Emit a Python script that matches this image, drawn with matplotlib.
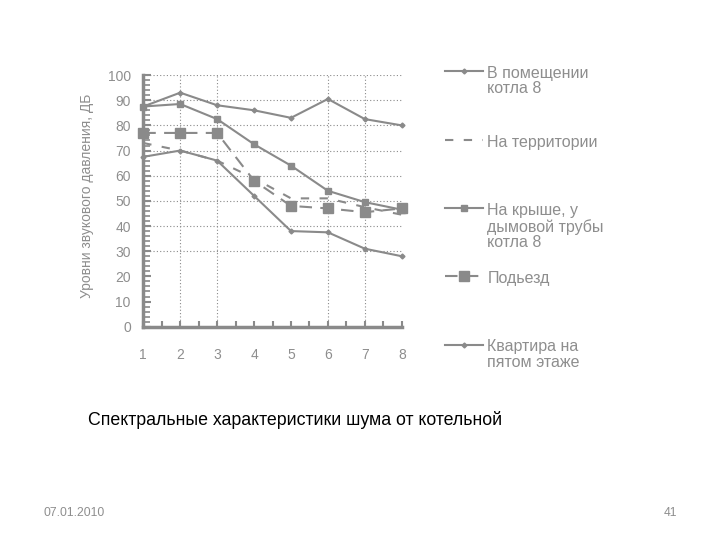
import matplotlib
matplotlib.use('Agg')
import matplotlib.pyplot as plt
from matplotlib.lines import Line2D
from matplotlib.ticker import MultipleLocator

plt.rcParams['font.family'] = ['Liberation Sans', 'DejaVu Sans']

# octave bands (1..8) and levels, dB
bands = [1, 2, 3, 4, 5, 6, 7, 8]
boiler_room = [87.5, 93, 88, 86, 83, 90.5, 82.5, 80]
territory = [73, 70, 66, 59, 51, 51, 47.5, 44.5]
roof = [87.5, 88.5, 82.5, 72.5, 64, 54, 49.5, 46.5]
entrance = [77, 77, 77, 58, 48, 47, 45.5, 47]
flat_5th = [67.5, 70, 66, 52, 38, 37.5, 31, 28]

names = ['В помещении\nкотла 8', 'На территории',
         'На крыше, у\nдымовой трубы\nкотла 8', 'Подьезд',
         'Квартира на\nпятом этаже']

gray = '#8a8a8a'
txt = '#8e8e8e'

fig = plt.figure(figsize=(7.2, 5.4), dpi=100)
ax = fig.add_axes([0.199, 0.395, 0.359, 0.466])

styles = [
    dict(ls='-', marker='D', ms=2.5),
    dict(ls=(0, (4, 5)), marker=None, ms=0),
    dict(ls='-', marker='s', ms=4),
    dict(ls=(0, (6, 4)), marker='s', ms=7.5),
    dict(ls='-', marker='D', ms=2.5),
]
series = [boiler_room, territory, roof, entrance, flat_5th]
for vals, st in zip(series, styles):
    ax.plot(bands, vals, color=gray, lw=1.5, linestyle=st['ls'],
            marker=st['marker'], ms=st['ms'], mfc=gray, mec=gray,
            clip_on=False, zorder=3)

ax.set_xlim(1, 8)
ax.set_ylim(0, 100)
ax.set_xticks(bands)
ax.set_yticks(range(0, 101, 10))
ax.yaxis.set_minor_locator(MultipleLocator(2))
ax.xaxis.set_minor_locator(MultipleLocator(0.5))

for s in ['top', 'right']:
    ax.spines[s].set_visible(False)
for s in ['left', 'bottom']:
    ax.spines[s].set_color(gray)
    ax.spines[s].set_linewidth(2.5)

ax.tick_params(axis='both', which='both', direction='in', color=gray,
               labelcolor=txt, labelsize=10)
ax.tick_params(axis='y', which='major', length=6, width=1.5, pad=9)
ax.tick_params(axis='y', which='minor', length=5, width=1.2)
ax.tick_params(axis='x', which='major', length=4, width=1.5, pad=15)
ax.tick_params(axis='x', which='minor', length=4, width=1.5)

# dotted grid (only the rows/columns visible in the original)
for y in [30, 40, 50, 60, 70, 80, 90, 100]:
    ax.axhline(y, color=gray, lw=0.8, ls=(0, (1, 2)), zorder=1)
for x in [2, 3, 6, 7]:
    ax.axvline(x, color=gray, lw=0.8, ls=(0, (1, 2)), zorder=1)

ax.set_ylabel('Уровни звукового давления, ДБ', color=txt, fontsize=10)
ax.yaxis.set_label_coords(-0.19, 0.52)

# legend drawn by hand on the right
leg_y = [0.868, 0.740, 0.614, 0.488, 0.362]
for name, st, ly in zip(names, styles, leg_y):
    h = Line2D([0.618, 0.671], [ly, ly], transform=fig.transFigure,
               color=gray, lw=1.5, linestyle=st['ls'])
    fig.add_artist(h)
    if st['marker']:
        m = Line2D([0.6445], [ly], transform=fig.transFigure, color=gray,
                   marker=st['marker'], ms=st['ms'], lw=0, mfc=gray, mec=gray)
        fig.add_artist(m)
    fig.text(0.677, ly + 0.01, name, color=txt, fontsize=11.5, va='top',
             linespacing=1.05)

fig.text(0.122, 0.222, 'Спектральные характеристики шума от котельной',
         fontsize=12.8, color='black', va='center')
fig.text(0.06, 0.05, '07.01.2010', fontsize=8.7, color=txt, va='center')
fig.text(0.94, 0.05, '41', fontsize=8.7, color=txt, va='center', ha='right')

fig.savefig('out.png', dpi=100)
